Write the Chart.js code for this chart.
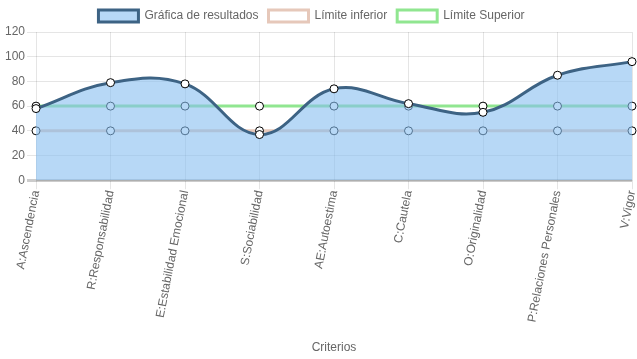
<!DOCTYPE html>
<html><head><meta charset="utf-8">
<script src="https://cdn.jsdelivr.net/npm/chart.js@4/dist/chart.umd.min.js"></script>
<style>html,body{margin:0;padding:0;background:#fff}#wrap{width:637px;height:359px}</style>
</head><body><div id="wrap"><canvas id="c" width="637" height="359"></canvas></div>
<script>
const categories = ["A:Ascendencia","R:Responsabilidad","E:Estabilidad Emocional","S:Sociabilidad","AE:Autoestima","C:Cautela","O:Originalidad","P:Relaciones Personales","V:Vigor"];
const resultados = [58,79,78,37,74,62,55,85,96];
const limiteInferior = [40,40,40,40,40,40,40,40,40];
const limiteSuperior = [60,60,60,60,60,60,60,60,60];
const yTicks = [0,20,40,60,80,100,120];

Chart.defaults.font.family = "'Liberation Sans', Arial, sans-serif";
Chart.defaults.font.size = 12;
Chart.defaults.color = '#666';

const legendShift = { id:'legendShift', afterLayout(chart){ if (chart.legend) { chart.legend.right -= 13; } } };

new Chart(document.getElementById('c'), {
  type: 'line',
  data: {
    labels: categories,
    datasets: [
      {label:'Gráfica de resultados', data: resultados, borderColor:'#3d6384', backgroundColor:'rgba(135,190,240,0.6)',
       borderWidth:3, fill:'origin', tension:0.4, pointBackgroundColor:'#fff', pointBorderColor:'#000', pointBorderWidth:1, pointRadius:4},
      {label:'Límite inferior', data: limiteInferior, borderColor:'rgb(230,200,186)', backgroundColor:'#fff',
       borderWidth:3, fill:false, tension:0, pointBackgroundColor:'#fff', pointBorderColor:'#000', pointBorderWidth:1, pointRadius:4},
      {label:'Límite Superior', data: limiteSuperior, borderColor:'rgb(144,230,144)', backgroundColor:'#fff',
       borderWidth:3, fill:false, tension:0, pointBackgroundColor:'#fff', pointBorderColor:'#000', pointBorderWidth:1, pointRadius:4}
    ]
  },
  plugins:[legendShift],
  options: {
    responsive:false, animation:false, devicePixelRatio:1,
    layout:{padding:{left:3,right:4,top:0,bottom:4}},
    plugins:{
      legend:{position:'top', labels:{boxWidth:40, boxHeight:12, padding:10, color:'#666'}},
      tooltip:{enabled:false}
    },
    scales:{
      x:{
        grid:{color:'rgba(0,0,0,0.1)', tickLength:9},
        border:{color:'rgba(0,0,0,0.15)'},
        ticks:{minRotation:79, maxRotation:79, autoSkip:false, padding:0},
        title:{display:true, text:'Criterios', padding:{top:17,bottom:0}},
        afterFit: s => { s.paddingRight = 0; s.paddingLeft = 0; }
      },
      y:{
        min:0, max:120,
        afterBuildTicks: s => { s.ticks = yTicks.map(v => ({value:v})); },
        grid:{color: c => c.tick && c.tick.value === 0 ? 'rgba(0,0,0,0.2)' : 'rgba(0,0,0,0.1)', lineWidth: c => c.tick && c.tick.value===0 ? 3 : 1, tickLength:9},
        border:{display:false},
        ticks:{padding:2}
      }
    }
  }
});
</script></body></html>
